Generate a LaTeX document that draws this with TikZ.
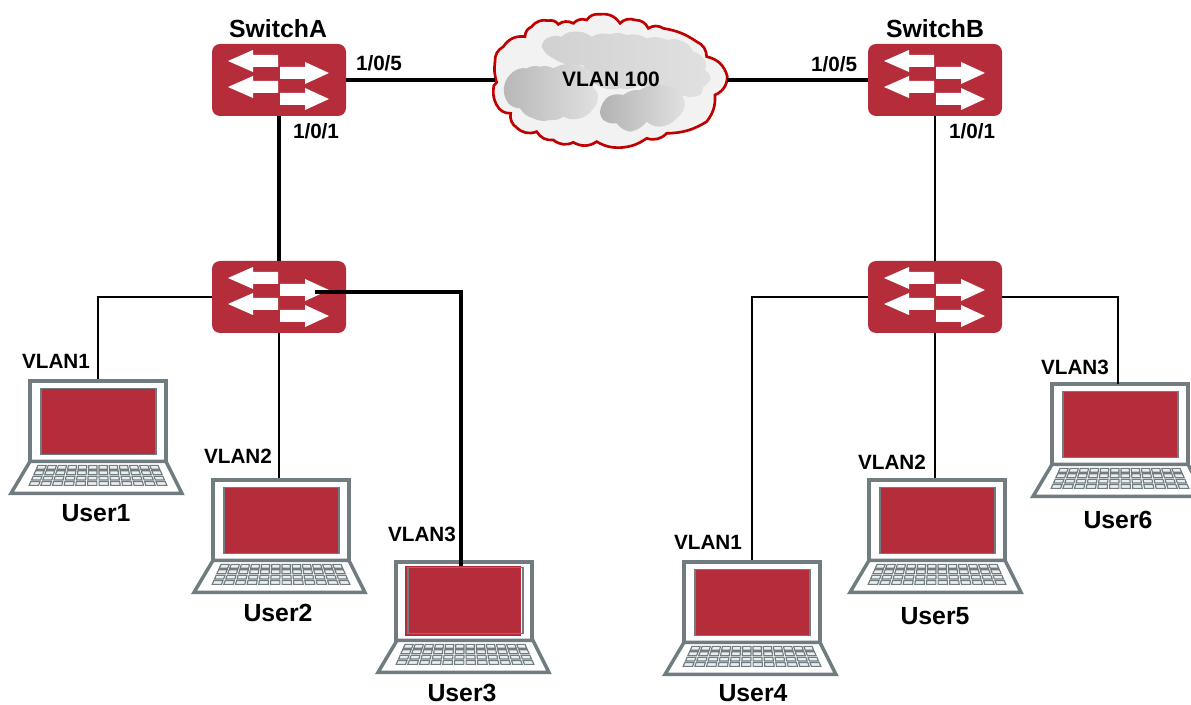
\documentclass[tikz,border=0pt]{standalone}
\usepackage{fontspec}
\setmainfont{Liberation Sans}
\usetikzlibrary{positioning, calc}
\definecolor{switchred}{RGB}{181, 45, 58}
\definecolor{laptopgray}{RGB}{112, 124, 128}
\definecolor{keygray}{RGB}{235, 238, 238}
\definecolor{cloudred}{RGB}{192, 0, 0}
\definecolor{cloudfill}{RGB}{242, 242, 242}
\tikzset{
    switchbox/.style={
        rectangle,
        rounded corners=6pt,
        minimum width=100.5pt,
        minimum height=54pt,
        inner sep=0pt,
        fill=switchred
    },
    laptopframe/.style={
        rectangle,
        minimum width=102pt,
        minimum height=61.5pt,
        inner sep=0pt,
        draw=laptopgray,
        line width=2.4pt,
        fill=white
    },
    trunk/.style={
        line width=2.4pt,
        color=black
    },
    access/.style={
        line width=1.6pt,
        color=black
    },
    heavy/.style={
        line width=2.8pt,
        color=black
    },
    devicelabel/.style={
        font=\bfseries\fontsize{18.6}{20}\selectfont,
        inner sep=0pt
    },
    portlabel/.style={
        font=\bfseries\fontsize{15.5}{18}\selectfont,
        inner sep=0pt
    },
    pics/switcharrows/.style={
        code={
            \foreach \ya in {-19,7} {
                \fill[white] (-51,\ya) -- (-26,\ya-11) -- (-26,\ya-6) -- (-1,\ya-6)
                    -- (-1,\ya+6) -- (-26,\ya+6) -- (-26,\ya+11) -- cycle;
            }
            \foreach \ya in {-7,19} {
                \fill[white] (50,\ya) -- (26,\ya-11) -- (26,\ya-6) -- (1,\ya-6)
                    -- (1,\ya+6) -- (26,\ya+6) -- (26,\ya+11) -- cycle;
            }
        }
    },
    pics/laptopbody/.style={
        code={
            % screen
            \draw[laptopgray, line width=0.9pt, fill=#1] (-57,9) rectangle (58,75);
            % base
            \draw[laptopgray, line width=2.6pt, line join=miter, fill=white]
                (-68,82) -- (68,82) -- (84,114) -- (-87,114) -- cycle;
            % keys
            \foreach \row in {0,1,2,3} {
                \foreach \col in {0,...,11} {
                    \pgfmathsetmacro{\ytop}{86+\row*5.4}
                    \pgfmathsetmacro{\ybot}{\ytop+3.8}
                    \pgfmathsetmacro{\wtop}{61+(\ytop-86)*0.45}
                    \pgfmathsetmacro{\wbot}{61+(\ybot-86)*0.45}
                    \draw[laptopgray, line width=0.85pt, fill=keygray]
                        ({(-1+\col/6+0.016)*\wtop},\ytop) -- ({(-1+(\col+1)/6-0.016)*\wtop},\ytop)
                        -- ({(-1+(\col+1)/6-0.016)*\wbot},\ybot) -- ({(-1+\col/6+0.016)*\wbot},\ybot) -- cycle;
                }
            }
        }
    }
}
\begin{document}
\begin{tikzpicture}[x=0.75pt, y=-0.75pt]
    \useasboundingbox (0,0) rectangle (1191,705);

    % Cloud, in zoomed coordinates
    \begin{scope}[shift={(480,5)}, x=0.25pt, y=-0.25pt, every to/.style={bend left=32}]
        \draw[cloudred, line width=2pt, fill=cloudfill]
            (50,232) to[bend left=12] (45,170) to (70,125) to (135,95) to (155,65) to (205,47)
            to (235,58) to (280,55) to (320,45) to (360,28) to (420,55) to (465,45) to (505,70)
            to (550,70) to[bend left=12] (650,110) to (680,155) to (742,215) to (705,270)
            to[bend left=20] (680,350) to[bend left=15] (560,385) to (500,400) to[bend left=15] (420,428)
            to[bend left=15] (350,410) to (280,412) to (220,405) to (170,380) to (110,368)
            to (92,325) to (50,300) to[bend left=15] (40,255) to cycle;
        \begin{scope}[every to/.style={bend left=20}]
        \shade[left color=black!18, right color=black!12]
            (185,125) to (200,100) to (245,95) to (280,80) to (335,95) to (390,88) to (440,90)
            to (500,100) to (560,105) to (610,110) to (640,140) to (675,165) to (675,195)
            to (692,220) to (670,245) to (660,270) to (610,272) to (560,240) to (480,240)
            to (420,250) to (350,240) to (310,180) to (220,160) to cycle;
        \shade[left color=black!28, right color=black!12]
            (72,245) to (100,200) to (140,190) to (180,185) to (220,190) to (290,180) to (330,200)
            to (340,250) to (355,270) to (340,310) to (300,340) to (250,335) to (210,345)
            to (160,340) to (120,310) to (85,295) to cycle;
        \shade[left color=black!30, right color=black!12]
            (360,320) to (385,275) to (430,270) to (480,255) to (550,240) to (600,265) to (615,300)
            to (590,340) to (540,365) to (500,350) to (450,380) to (410,355) to (370,345) to cycle;
        \end{scope}
    \end{scope}
    \node (vlanhundred) [portlabel, minimum width=174pt, minimum height=40pt] at (611,80) {};
    \node (vlanlabel) [portlabel, font=\bfseries\fontsize{15.7}{18}\selectfont] at (611,79) {VLAN 100};

    % Switches
    \node (switcha) [switchbox] at (279,80) {};
    \node (switchb) [switchbox] at (935,80) {};
    \node (accessa) [switchbox] at (279,297) {};
    \node (accessb) [switchbox] at (935,297) {};
    \pic at (switcha) {switcharrows};
    \pic at (switchb) {switcharrows};
    \pic at (accessa) {switcharrows};
    \pic at (accessb) {switcharrows};

    % Laptops
    \node (user1) [laptopframe] at (98,422) {};
    \node (user2) [laptopframe] at (281,521) {};
    \node (user3) [laptopframe] at (464,603) {};
    \node (user4) [laptopframe] at (752,603) {};
    \node (user5) [laptopframe] at (937,521) {};
    \node (user6) [laptopframe] at (1120,425) {};
    \node (panel) [rectangle, fill=switchred, inner sep=0pt, minimum width=87pt, minimum height=52.5pt] at (463,601) {};
    \pic at (user1.north) {laptopbody=switchred};
    \pic at (user2.north) {laptopbody=switchred};
    \pic at ($(user3.north)+(1,-2)$) {laptopbody={none}};
    \pic at (user4.north) {laptopbody=switchred};
    \pic at (user5.north) {laptopbody=switchred};
    \pic at (user6.north) {laptopbody=switchred};

    % Connectors
    \coordinate (porta) at (315,292);
    \coordinate (portb) at (461,566);
    \coordinate (portc) at (1118,384);
    \draw [trunk] (switcha.east) -- (vlanhundred.west);
    \draw [trunk] (vlanhundred.east) -- (switchb.west);
    \draw [trunk] (switcha.south) -- (accessa.north);
    \draw [access] (switchb.south) -- (accessb.north);
    \draw [access] (accessa.west) -| (user1.north);
    \draw [access] (accessa.south) -- (accessa.south |- user2.north);
    \draw [heavy] (porta) -| (portb);
    \draw [access] (accessb.west) -| (user4.north);
    \draw [access] (accessb.south) -- (accessb.south |- user5.north);
    \draw [access] (accessb.east) -| (portc);

    % Labels
    \node (namea) [devicelabel] at (278,29) {SwitchA};
    \node (nameb) [devicelabel] at (935,29) {SwitchB};
    \node (porta5) [portlabel] at (379,63) {1/0/5};
    \node (porta1) [portlabel] at (316,131) {1/0/1};
    \node (portb5) [portlabel] at (834,64) {1/0/5};
    \node (portb1) [portlabel] at (972,131) {1/0/1};
    \node (vlana1) [portlabel] at (56,361) {VLAN1};
    \node (vlana2) [portlabel] at (238,456) {VLAN2};
    \node (vlana3) [portlabel] at (422,534) {VLAN3};
    \node (vlanb1) [portlabel] at (708,542) {VLAN1};
    \node (vlanb2) [portlabel] at (892,462) {VLAN2};
    \node (vlanb3) [portlabel] at (1075,367) {VLAN3};
    \node (name1) [devicelabel] at (96,513) {User1};
    \node (name2) [devicelabel] at (278,613) {User2};
    \node (name3) [devicelabel] at (462,692.5) {User3};
    \node (name4) [devicelabel] at (753,693.5) {User4};
    \node (name5) [devicelabel] at (935,616) {User5};
    \node (name6) [devicelabel] at (1118,520) {User6};
\end{tikzpicture}
\end{document}
